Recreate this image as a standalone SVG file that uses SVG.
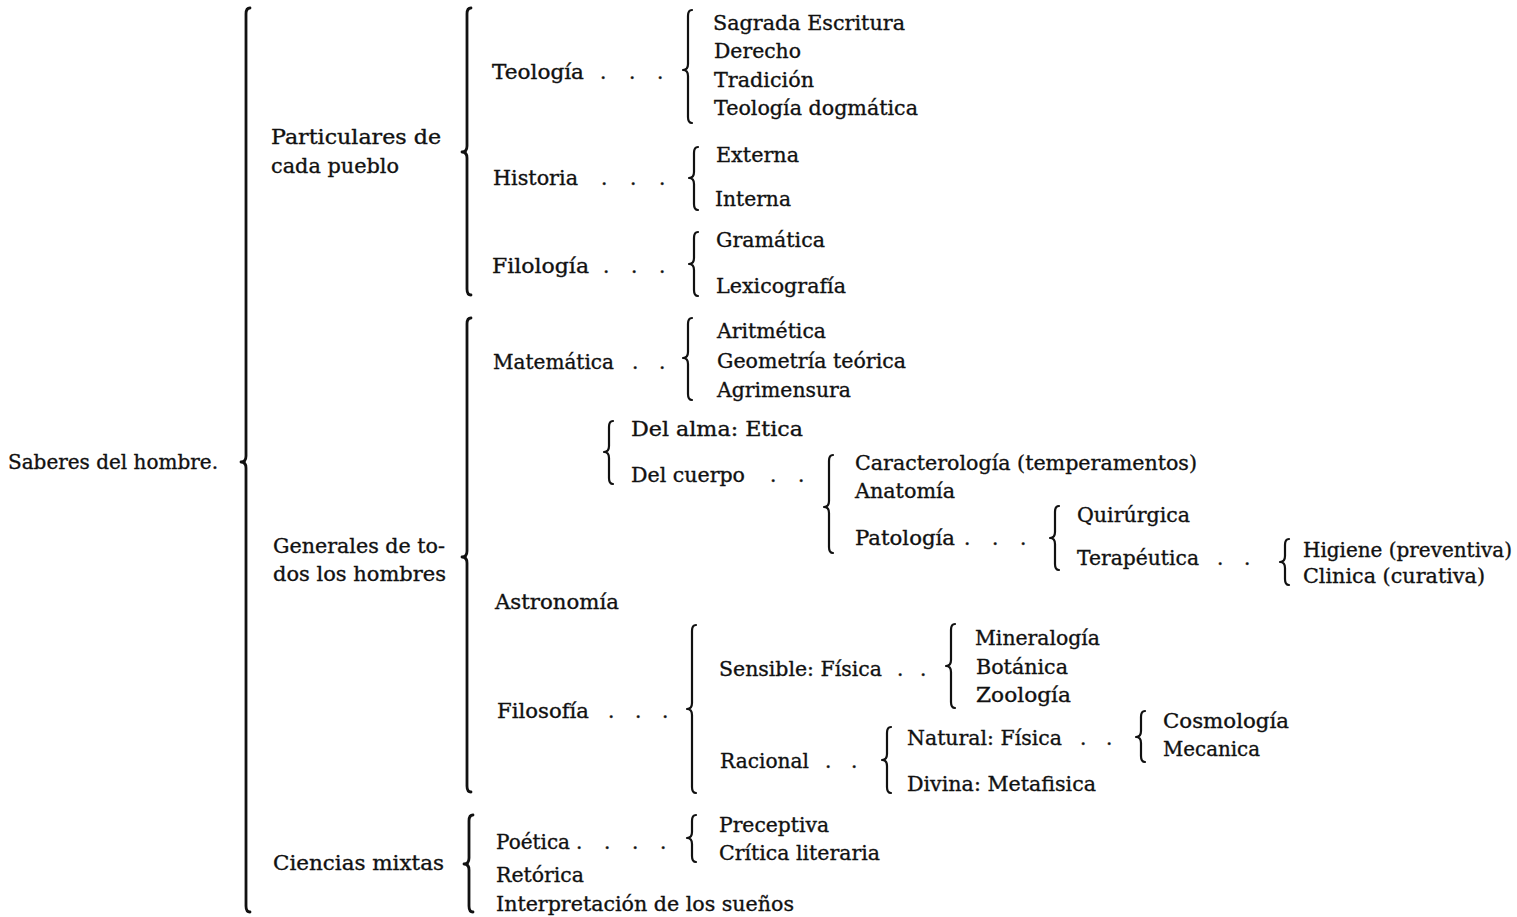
<svg xmlns="http://www.w3.org/2000/svg" width="1517" height="917" viewBox="0 0 1517 917">
<style>
.t{font-family:"DejaVu Serif","Liberation Serif",serif;font-size:20px;fill:#111111;stroke:#111111;stroke-width:0.35}
.b{fill:none;stroke:#111111;stroke-width:2.2;stroke-linecap:round;stroke-linejoin:round}
.bm{stroke-width:2.8}
</style>
<rect width="1517" height="917" fill="#ffffff"/>
<g id="connectors">
<path class="b bm" d="M250,8 Q246,8 246,14 L246,456 Q246,462 241,462 Q246,462 246,468 L246,906 Q246,912 250,912"/>
<path class="b bm" d="M471,8 Q467,8 467,14 L467,146 Q467,152 462,152 Q467,152 467,158 L467,289 Q467,295 471,295"/>
<path class="b bm" d="M471,318 Q467,318 467,324 L467,551 Q467,557 462,557 Q467,557 467,563 L467,786 Q467,792 471,792"/>
<path class="b bm" d="M473,815 Q469,815 469,821 L469,858 Q469,864 464,864 Q469,864 469,870 L469,906 Q469,912 473,912"/>
<path class="b" d="M692,10 Q688,10 688,16 L688,64 Q688,70 683,70 Q688,70 688,76 L688,117 Q688,123 692,123"/>
<path class="b" d="M698,147 Q694,147 694,153 L694,172 Q694,178 689,178 Q694,178 694,184 L694,204 Q694,210 698,210"/>
<path class="b" d="M698,232 Q694,232 694,238 L694,258 Q694,264 689,264 Q694,264 694,270 L694,290 Q694,296 698,296"/>
<path class="b" d="M692,318 Q688,318 688,324 L688,352 Q688,358 683,358 Q688,358 688,364 L688,394 Q688,400 692,400"/>
<path class="b" d="M613,421 Q609,421 609,427 L609,446 Q609,452 604,452 Q609,452 609,458 L609,478 Q609,484 613,484"/>
<path class="b" d="M833,455 Q829,455 829,461 L829,501 Q829,507 824,507 Q829,507 829,513 L829,547 Q829,553 833,553"/>
<path class="b" d="M1059,506 Q1055,506 1055,512 L1055,532 Q1055,538 1050,538 Q1055,538 1055,544 L1055,564 Q1055,570 1059,570"/>
<path class="b" d="M1289,539 Q1285,539 1285,545 L1285,556 Q1285,562 1280,562 Q1285,562 1285,568 L1285,579 Q1285,585 1289,585"/>
<path class="b" d="M696,625 Q692,625 692,631 L692,703 Q692,709 687,709 Q692,709 692,715 L692,787 Q692,793 696,793"/>
<path class="b" d="M955,624 Q951,624 951,630 L951,660 Q951,666 946,666 Q951,666 951,672 L951,702 Q951,708 955,708"/>
<path class="b" d="M891,727 Q887,727 887,733 L887,754 Q887,760 882,760 Q887,760 887,766 L887,787 Q887,793 891,793"/>
<path class="b" d="M1145,711 Q1141,711 1141,717 L1141,731 Q1141,737 1136,737 Q1141,737 1141,743 L1141,756 Q1141,762 1145,762"/>
<path class="b" d="M696,815 Q692,815 692,821 L692,832 Q692,838 687,838 Q692,838 692,844 L692,856 Q692,862 696,862"/>
</g>
<g id="n-saberes"><text class="t" x="8" y="469" textLength="210" lengthAdjust="spacingAndGlyphs">Saberes del hombre.</text></g>
<g id="n-particulares"><text class="t" x="271" y="144" textLength="170" lengthAdjust="spacingAndGlyphs">Particulares de</text><text class="t" x="271" y="173" textLength="128" lengthAdjust="spacingAndGlyphs">cada pueblo</text></g>
<g id="n-generales"><text class="t" x="273" y="553" textLength="172" lengthAdjust="spacingAndGlyphs">Generales de to-</text><text class="t" x="273" y="581" textLength="173" lengthAdjust="spacingAndGlyphs">dos los hombres</text></g>
<g id="n-mixtas"><text class="t" x="273" y="870" textLength="171" lengthAdjust="spacingAndGlyphs">Ciencias mixtas</text></g>
<g id="n-teologia"><text class="t" x="492" y="79" textLength="92" lengthAdjust="spacingAndGlyphs">Teología</text><text class="t" x="600 629 657" y="79">...</text></g>
<g id="n-sagrada"><text class="t" x="713" y="30" textLength="192" lengthAdjust="spacingAndGlyphs">Sagrada Escritura</text></g>
<g id="n-derecho"><text class="t" x="714" y="58" textLength="87" lengthAdjust="spacingAndGlyphs">Derecho</text></g>
<g id="n-tradicion"><text class="t" x="714" y="87" textLength="100" lengthAdjust="spacingAndGlyphs">Tradición</text></g>
<g id="n-dogmatica"><text class="t" x="714" y="115" textLength="204" lengthAdjust="spacingAndGlyphs">Teología dogmática</text></g>
<g id="n-historia"><text class="t" x="493" y="185" textLength="85" lengthAdjust="spacingAndGlyphs">Historia</text><text class="t" x="601 630 659" y="185">...</text></g>
<g id="n-externa"><text class="t" x="716" y="162" textLength="83" lengthAdjust="spacingAndGlyphs">Externa</text></g>
<g id="n-interna"><text class="t" x="715" y="206" textLength="76" lengthAdjust="spacingAndGlyphs">Interna</text></g>
<g id="n-filologia"><text class="t" x="492" y="273" textLength="97" lengthAdjust="spacingAndGlyphs">Filología</text><text class="t" x="603 631 659" y="273">...</text></g>
<g id="n-gramatica"><text class="t" x="716" y="247" textLength="109" lengthAdjust="spacingAndGlyphs">Gramática</text></g>
<g id="n-lexicografia"><text class="t" x="716" y="293" textLength="130" lengthAdjust="spacingAndGlyphs">Lexicografía</text></g>
<g id="n-matematica"><text class="t" x="493" y="369" textLength="121" lengthAdjust="spacingAndGlyphs">Matemática</text><text class="t" x="632 659" y="369">..</text></g>
<g id="n-aritmetica"><text class="t" x="717" y="338" textLength="109" lengthAdjust="spacingAndGlyphs">Aritmética</text></g>
<g id="n-geometria"><text class="t" x="717" y="368" textLength="189" lengthAdjust="spacingAndGlyphs">Geometría teórica</text></g>
<g id="n-agrimensura"><text class="t" x="717" y="397" textLength="134" lengthAdjust="spacingAndGlyphs">Agrimensura</text></g>
<g id="n-delalma"><text class="t" x="631" y="436" textLength="172" lengthAdjust="spacingAndGlyphs">Del alma:  Etica</text></g>
<g id="n-delcuerpo"><text class="t" x="631" y="482" textLength="114" lengthAdjust="spacingAndGlyphs">Del cuerpo</text><text class="t" x="770 798" y="482">..</text></g>
<g id="n-caracterologia"><text class="t" x="855" y="470" textLength="342" lengthAdjust="spacingAndGlyphs">Caracterología (temperamentos)</text></g>
<g id="n-anatomia"><text class="t" x="855" y="498" textLength="100" lengthAdjust="spacingAndGlyphs">Anatomía</text></g>
<g id="n-patologia"><text class="t" x="855" y="545" textLength="100" lengthAdjust="spacingAndGlyphs">Patología</text><text class="t" x="964 992 1020" y="545">...</text></g>
<g id="n-quirurgica"><text class="t" x="1077" y="522" textLength="113" lengthAdjust="spacingAndGlyphs">Quirúrgica</text></g>
<g id="n-terapeutica"><text class="t" x="1077" y="565" textLength="122" lengthAdjust="spacingAndGlyphs">Terapéutica</text><text class="t" x="1217 1244" y="565">..</text></g>
<g id="n-higiene"><text class="t" x="1303" y="557" textLength="209" lengthAdjust="spacingAndGlyphs">Higiene (preventiva)</text></g>
<g id="n-clinica"><text class="t" x="1303" y="583" textLength="182" lengthAdjust="spacingAndGlyphs">Clinica (curativa)</text></g>
<g id="n-astronomia"><text class="t" x="495" y="609" textLength="124" lengthAdjust="spacingAndGlyphs">Astronomía</text></g>
<g id="n-filosofia"><text class="t" x="497" y="718" textLength="92" lengthAdjust="spacingAndGlyphs">Filosofía</text><text class="t" x="608 635 662" y="718">...</text></g>
<g id="n-sensible"><text class="t" x="719" y="676" textLength="163" lengthAdjust="spacingAndGlyphs">Sensible: Física</text><text class="t" x="897 920" y="676">..</text></g>
<g id="n-mineralogia"><text class="t" x="975" y="645" textLength="125" lengthAdjust="spacingAndGlyphs">Mineralogía</text></g>
<g id="n-botanica"><text class="t" x="976" y="674" textLength="92" lengthAdjust="spacingAndGlyphs">Botánica</text></g>
<g id="n-zoologia"><text class="t" x="976" y="702" textLength="95" lengthAdjust="spacingAndGlyphs">Zoología</text></g>
<g id="n-racional"><text class="t" x="720" y="768" textLength="89" lengthAdjust="spacingAndGlyphs">Racional</text><text class="t" x="825 851" y="768">..</text></g>
<g id="n-natural"><text class="t" x="907" y="745" textLength="155" lengthAdjust="spacingAndGlyphs">Natural: Física</text><text class="t" x="1080 1106" y="745">..</text></g>
<g id="n-cosmologia"><text class="t" x="1163" y="728" textLength="126" lengthAdjust="spacingAndGlyphs">Cosmología</text></g>
<g id="n-mecanica"><text class="t" x="1163" y="756" textLength="97" lengthAdjust="spacingAndGlyphs">Mecanica</text></g>
<g id="n-divina"><text class="t" x="907" y="791" textLength="189" lengthAdjust="spacingAndGlyphs">Divina: Metafisica</text></g>
<g id="n-poetica"><text class="t" x="496" y="849" textLength="74" lengthAdjust="spacingAndGlyphs">Poética</text><text class="t" x="576 604 632 660" y="849">....</text></g>
<g id="n-preceptiva"><text class="t" x="719" y="832" textLength="110" lengthAdjust="spacingAndGlyphs">Preceptiva</text></g>
<g id="n-critica"><text class="t" x="719" y="860" textLength="161" lengthAdjust="spacingAndGlyphs">Crítica literaria</text></g>
<g id="n-retorica"><text class="t" x="496" y="882" textLength="88" lengthAdjust="spacingAndGlyphs">Retórica</text></g>
<g id="n-interpretacion"><text class="t" x="496" y="911" textLength="298" lengthAdjust="spacingAndGlyphs">Interpretación de los sueños</text></g>
</svg>
